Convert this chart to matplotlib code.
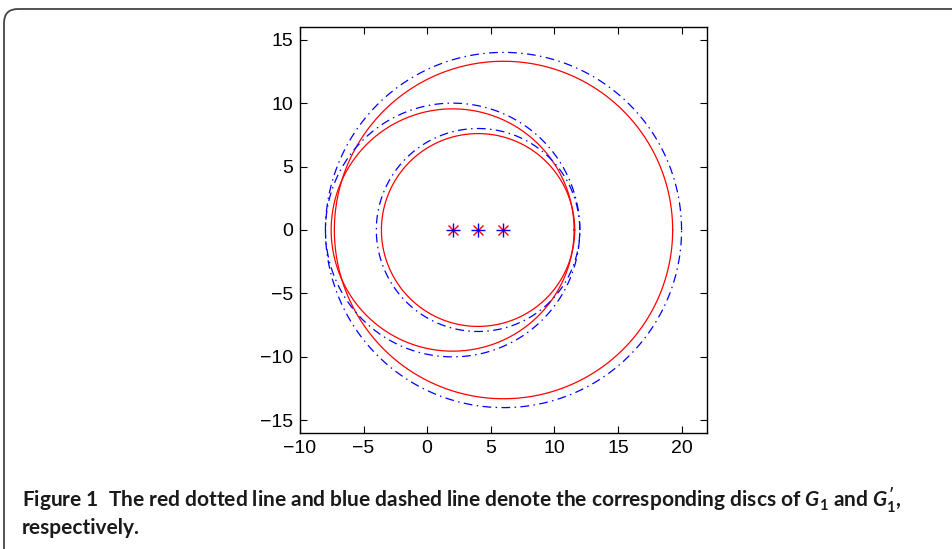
import numpy as np
import matplotlib
matplotlib.use("Agg")
import matplotlib.pyplot as plt
import matplotlib.patches as mpatches
from matplotlib.transforms import IdentityTransform

# disc centres (on the real axis) and radii
centers = [6, 2, 4]
red_radii = [13.3, 9.55, 7.6]    # discs of G1
blue_radii = [14, 10, 8]         # discs of G1'
star_x = [2, 4, 6]
star_y = [0, 0, 0]

xticks = [-10, -5, 0, 5, 10, 15, 20]
yticks = [-15, -10, -5, 0, 5, 10, 15]

plt.rcParams['font.family'] = ['Liberation Sans', 'DejaVu Sans']
plt.rcParams['mathtext.fontset'] = 'custom'
plt.rcParams['mathtext.it'] = 'Lato:italic:bold'
plt.rcParams['mathtext.rm'] = 'Lato:bold'

fig = plt.figure(figsize=(9.53, 5.49), dpi=100)
ax = fig.add_axes([300 / 953, 1 - 433 / 549, 407 / 953, 406 / 549])

t = np.linspace(0, 2 * np.pi, 400)
for c, rb, rr in zip(centers, blue_radii, red_radii):
    ax.plot(c + rb * np.cos(t), rb * np.sin(t), color='blue', linewidth=0.9,
            dashes=(7, 3.5, 1.2, 3.5))
    ax.plot(c + rr * np.cos(t), rr * np.sin(t), color='red', linestyle='-', linewidth=0.9)

ax.plot(star_x, star_y, linestyle='none', marker='x', color='red', markersize=7, markeredgewidth=1)
ax.plot(star_x, star_y, linestyle='none', marker='+', color='blue', markersize=10, markeredgewidth=1)

ax.set_xlim(-10, 22)
ax.set_ylim(-16, 16)
ax.set_xticks(xticks)
ax.set_yticks(yticks)
ax.tick_params(direction='in', top=True, right=True, length=5, width=0.8, labelsize=14, pad=5)
for s in ax.spines.values():
    s.set_linewidth(1.0)

# rounded frame around the figure, like the journal layout
frame = mpatches.FancyBboxPatch((4, -30), 1000, 540 + 30, boxstyle="round,pad=0,rounding_size=14",
                                transform=IdentityTransform(), fill=False, edgecolor='#444444', linewidth=1.3)
fig.patches.append(frame)

cap = dict(fontsize=15, fontweight='bold', family=['Lato', 'DejaVu Sans'], color='#1a1a1a')
fig.text(22 / 953, 1 - 500 / 549,
         "Figure 1  The red dotted line and blue dashed line denote the corresponding discs of $G_1$ and $G_1'$,",
         va='center', ha='left', **cap)
fig.text(22 / 953, 1 - 528 / 549, "respectively.", va='center', ha='left', **cap)

fig.savefig("out.png", dpi=100)
